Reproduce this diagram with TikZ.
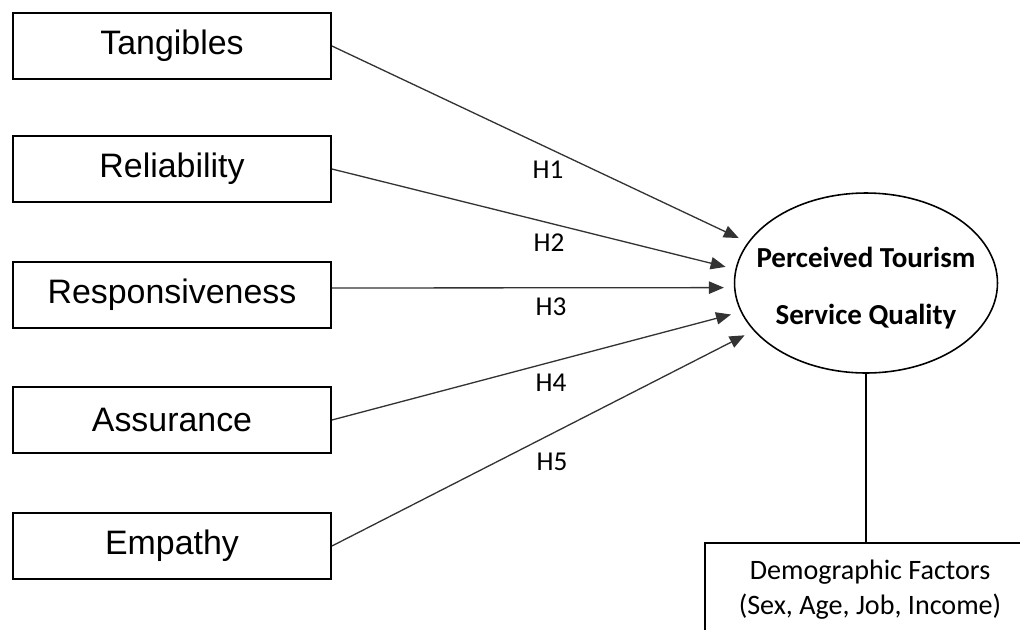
\documentclass[tikz,border=0pt]{standalone}
\usepackage{fontspec}
\setmainfont{Liberation Sans}
\newfontfamily\calibri{Carlito}
\usetikzlibrary{shapes.geometric,arrows.meta}

\tikzset{
	dimbox/.style={draw, line width=1.1pt, minimum width=6.36cm, minimum height=1.32cm, inner sep=0pt, font=\fontsize{19.3}{21}\selectfont},
	hyp/.style={draw=black!80, line width=0.75pt, -{Triangle[length=8.5pt, width=7pt]}, shorten >=0.2cm},
	hlabel/.style={font=\calibri\fontsize{15.5}{18}\selectfont}
}

\begin{document}
\begin{tikzpicture}[x=0.02cm, y=-0.02cm]
	\clip (0,0) rectangle (1020,629);

	\node[dimbox] (tang) at (172,46) {Tangibles};
	\node[dimbox] (reli) at (172,169) {Reliability};
	\node[dimbox] (resp) at (172,295) {Responsiveness};
	\node[dimbox] (assu) at (172,420) {Assurance};
	\node[dimbox] (empa) at (172,546) {Empathy};

	\node[ellipse, draw, line width=0.9pt, minimum width=5.26cm, minimum height=3.6cm, inner sep=0pt] (perc) at (866,283) {};
	\node[align=center, font=\calibri\bfseries\fontsize{16.5}{32}\selectfont] (perctext) at (866,288) {Perceived Tourism\\Service Quality};

	\node[draw, line width=0.9pt, minimum width=6.6cm, minimum height=1.88cm, align=center, font=\calibri\fontsize{16}{19.8}\selectfont] (demo) at (870,590) {Demographic Factors\\(Sex, Age, Job, Income)};

	% hypotheses
	\draw[hyp] (tang.east) -- (perc.161);
	\draw[hyp] (reli.east) -- (perc.174);
	\draw[hyp] ([yshift=0.14cm]resp.east) -- (perc.182);
	\draw[hyp] (assu.east) -- (perc.193);
	\draw[hyp] (empa.east) -- (perc.203);

	\node[hlabel] (h1) at (548,170) {H1};
	\node[hlabel] (h2) at (549,243) {H2};
	\node[hlabel] (h3) at (551,307) {H3};
	\node[hlabel] (h4) at (551,383) {H4};
	\node[hlabel] (h5) at (552,462) {H5};

	\draw[line width=0.9pt] (perc.south) -- (perc.south |- demo.north);
\end{tikzpicture}
\end{document}
